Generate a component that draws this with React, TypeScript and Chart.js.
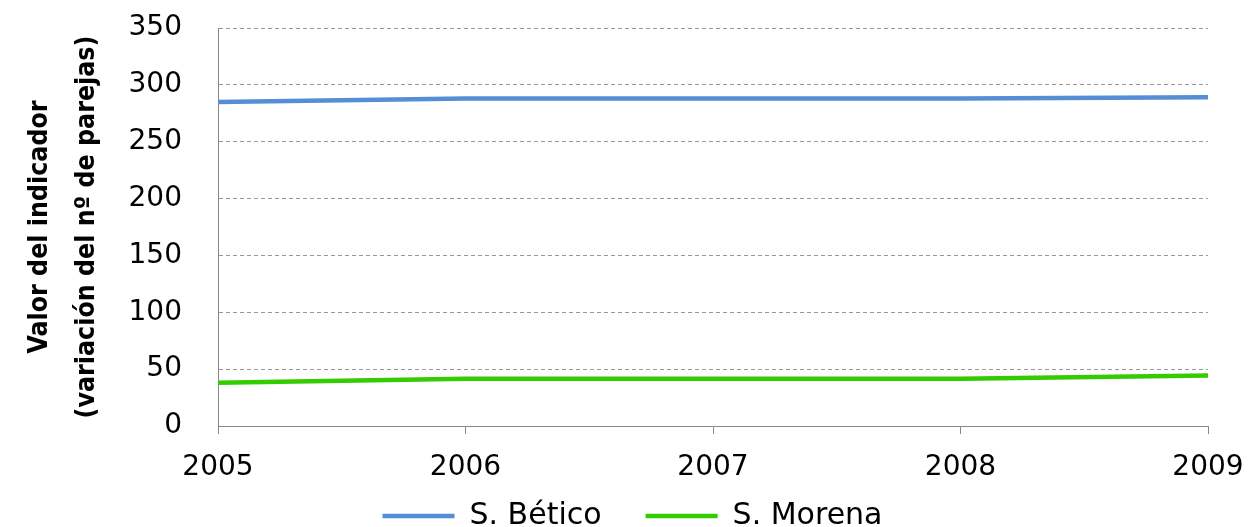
import React, { useEffect, useRef } from "react";
import { Chart, registerables } from "chart.js";

Chart.register(...registerables);

const years = ["2005", "2006", "2007", "2008", "2009"];
const beticoValues = [285, 288, 288, 288, 289];
const morenaValues = [38, 41.5, 41.5, 41.5, 44.5];
const yTicks = { min: 0, max: 350, step: 50 };
const yTitleLines = ["Valor del indicador", "(variación del nº de parejas)"];

export default function App() {
  const ref = useRef<HTMLCanvasElement | null>(null);

  useEffect(() => {
    document.body.style.margin = "0";
    const canvas = ref.current;
    if (!canvas) return;
    const chart = new Chart(canvas, {
      type: "line",
      data: {
        labels: years,
        datasets: [
          {
            label: "S. Bético",
            data: beticoValues,
            borderColor: "#558ED5",
            backgroundColor: "#558ED5",
            borderWidth: 4.5,
            pointRadius: 0,
            tension: 0,
          },
          {
            label: "S. Morena",
            data: morenaValues,
            borderColor: "#33CC00",
            backgroundColor: "#33CC00",
            borderWidth: 4.5,
            pointRadius: 0,
            tension: 0,
          },
        ],
      },
      options: {
        animation: false,
        responsive: false,
        layout: { padding: { top: 28, right: 0, left: 17, bottom: -14 } },
        plugins: {
          tooltip: { enabled: false },
          legend: {
            position: "bottom",
            labels: {
              usePointStyle: true,
              pointStyle: "line",
              pointStyleWidth: 72,
              boxHeight: 4,
              padding: 44,
              color: "#000",
              font: { family: "DejaVu Sans", size: 30 },
            },
          },
        },
        scales: {
          x: {
            offset: false,
            afterFit: (s: any) => {
              s.height = 31;
              s.paddingRight = 40;
              s._computeLabelArea = () => undefined;
            },
            grid: {
              display: true,
              drawOnChartArea: false,
              drawTicks: true,
              tickLength: 8,
              color: "#888",
            },
            border: { display: true, color: "#888", width: 1 },
            ticks: {
              color: "#000",
              padding: 17,
              maxRotation: 0,
              font: { family: "DejaVu Sans", size: 28 },
            },
          },
          y: {
            min: yTicks.min,
            max: yTicks.max,
            afterFit: (s: any) => {
              s.width = 201;
              s.paddingTop = 0;
              s.paddingBottom = 0;
            },
            grid: {
              display: true,
              drawTicks: false,
              color: "#999",
            },
            border: { display: true, color: "#888", width: 1, dash: [4, 3] },
            ticks: {
              stepSize: yTicks.step,
              color: "#000",
              padding: 36,
              font: { family: "DejaVu Sans", size: 28 },
            },
            title: {
              display: true,
              text: yTitleLines,
              color: "#000",
              padding: 0,
              font: { family: "DejaVu Sans Condensed", size: 26.5, weight: "bold", lineHeight: 1.77 },
            },
          },
        },
      },
    });
    return () => chart.destroy();
  }, []);

  return (
    <div style={{ width: 1248, height: 527 }}>
      <canvas ref={ref} width={1248} height={527} style={{ display: "block" }} />
    </div>
  );
}
